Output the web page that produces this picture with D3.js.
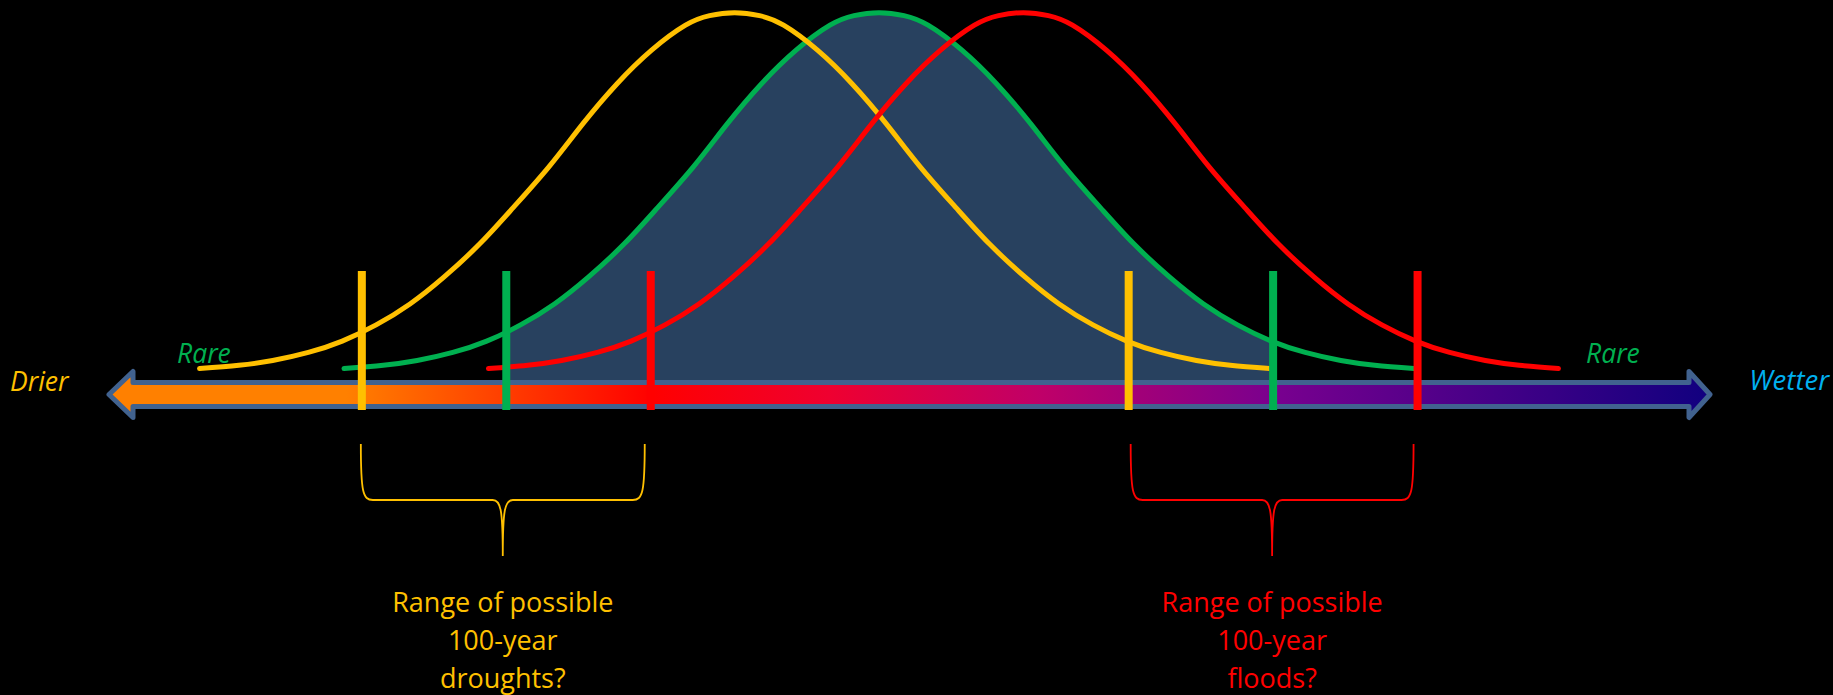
<!DOCTYPE html>
<html>
<head>
<meta charset="utf-8">
<script src="https://cdn.jsdelivr.net/npm/d3@7"></script>
<style>
  html, body { margin: 0; padding: 0; background: #000; }
  svg { display: block; }
</style>
</head>
<body>
<svg id="chart" width="1833" height="695"></svg>
<script>
// ---------- DATA ----------
// Three climate distributions (x in standard-deviation units of the current climate)
const seriesNames  = ["Current climate", "Drier climate", "Wetter climate"];
const seriesMeans  = [0, -0.81, 0.81];
// Shape of each bell curve: offset from the mean (σ) and relative height
const profileOffsets = [0, 0.14, 0.275, 0.465, 0.66, 0.85, 1.04, 1.24, 1.43, 1.63, 1.82, 2.01, 2.20, 2.39, 2.59, 2.78, 3.0];
const profileHeights = [1.0, 0.992, 0.966, 0.898, 0.806, 0.698, 0.581, 0.470, 0.370, 0.280, 0.207, 0.150, 0.106, 0.075, 0.053, 0.040, 0.031];
// "100-year event" thresholds relative to each mean (σ): low tail, high tail
const thresholdOffsets = [-2.09, 2.21];
// Text
const axisLabels  = ["Drier", "Wetter"];
const rareLabel   = "Rare";
const droughtText = ["Range of possible", "100-year", "droughts?"];
const floodText   = ["Range of possible", "100-year", "floods?"];

// ---------- STYLE ----------
const colors = { "Current climate": "#00b050", "Drier climate": "#ffc000", "Wetter climate": "#ff0000" };
const W = 1833, H = 695;
const svg = d3.select("#chart");
svg.append("rect").attr("width", W).attr("height", H).attr("fill", "#000");

const x = d3.scaleLinear().domain([-3, 3]).range([344, 1414]);
const y = d3.scaleLinear().domain([0, 1]).range([380, 12.7]);

function curvePoints(mean) {
  const pts = [];
  for (let i = profileOffsets.length - 1; i > 0; i--) pts.push([mean - profileOffsets[i], profileHeights[i]]);
  for (let i = 0; i < profileOffsets.length; i++) pts.push([mean + profileOffsets[i], profileHeights[i]]);
  return pts;
}

const line = d3.line().x(d => x(d[0])).y(d => y(d[1])).curve(d3.curveNatural);
const area = d3.area().x(d => x(d[0])).y0(y(0)).y1(d => y(d[1])).curve(d3.curveNatural);

// ---------- Shaded "normal" range under the current climate curve ----------
const cMean = seriesMeans[0];
const defs = svg.append("defs");
defs.append("clipPath").attr("id", "normalClip").append("rect")
  .attr("x", x(cMean + thresholdOffsets[0]))
  .attr("y", 0)
  .attr("width", x(cMean + thresholdOffsets[1]) - x(cMean + thresholdOffsets[0]))
  .attr("height", y(0));
svg.append("path")
  .datum(curvePoints(cMean))
  .attr("d", area)
  .attr("fill", "#28415f")
  .attr("clip-path", "url(#normalClip)");

// ---------- Double arrow with gradient ----------
const grad = defs.append("linearGradient").attr("id", "arrowGrad")
  .attr("gradientUnits", "userSpaceOnUse")
  .attr("x1", 105).attr("x2", 1713).attr("y1", 0).attr("y2", 0);
[[0, "#ff8000"], [0.15, "#ff8000"], [0.34, "#ff0000"], [0.45, "#ef0030"], [0.58, "#c00068"], [0.73, "#78008f"], [1, "#10007f"]]
  .forEach(s => grad.append("stop").attr("offset", s[0]).attr("stop-color", s[1]));

const aL = 109, aR = 1710, hL = 133, hR = 1689, cy = 394.5, sh = 12, hh = 23;
const arrowPath = [
  [aL, cy], [hL, cy - hh], [hL, cy - sh], [hR, cy - sh], [hR, cy - hh], [aR, cy],
  [hR, cy + hh], [hR, cy + sh], [hL, cy + sh], [hL, cy + hh]
];
svg.append("path")
  .attr("d", d3.line()(arrowPath) + "Z")
  .attr("fill", "url(#arrowGrad)")
  .attr("stroke", "#41628f")
  .attr("stroke-width", 5)
  .attr("stroke-linejoin", "round");

// ---------- Bell curves ----------
seriesNames.forEach((name, i) => {
  svg.append("path")
    .datum(curvePoints(seriesMeans[i]))
    .attr("d", line)
    .attr("fill", "none")
    .attr("stroke", colors[name])
    .attr("stroke-width", 5)
    .attr("stroke-linecap", "round");
});

// ---------- Threshold markers ----------
seriesNames.forEach((name, i) => {
  thresholdOffsets.forEach(off => {
    const xv = x(seriesMeans[i] + off);
    svg.append("rect")
      .attr("x", xv - 4).attr("y", 271)
      .attr("width", 8).attr("height", 139)
      .attr("fill", colors[name]);
  });
});

// ---------- Labels ----------
function label(txt, xp, yp, color, size, anchor) {
  svg.append("text").attr("x", xp).attr("y", yp).text(txt)
    .attr("text-anchor", anchor || "start")
    .attr("fill", color).attr("font-family", "Open Sans")
    .attr("font-style", "italic").attr("font-size", size);
}
label(axisLabels[0], 10, 391, "#ffc000", 26.5);
label(axisLabels[1], 1829, 390, "#00b0f0", 27.5, "end");
label(rareLabel, 177, 363, "#00b050", 26.5);
label(rareLabel, 1586, 363, "#00b050", 26.5);

// ---------- Braces ----------
function brace(x0, x1, color) {
  const xm = (x0 + x1) / 2, top = 444, mid = 500, tip = 556;
  const p = d3.path();
  p.moveTo(x0, top);
  p.bezierCurveTo(x0, mid - 8, x0 + 2, mid, x0 + 12, mid);
  p.lineTo(xm - 10, mid);
  p.bezierCurveTo(xm - 2, mid, xm, mid + 10, xm, tip);
  p.bezierCurveTo(xm, mid + 10, xm + 2, mid, xm + 10, mid);
  p.lineTo(x1 - 12, mid);
  p.bezierCurveTo(x1 - 2, mid, x1, mid - 8, x1, top);
  svg.append("path").attr("d", p.toString()).attr("fill", "none")
    .attr("stroke", color).attr("stroke-width", 1.8);
  return xm;
}
const dryIdx = 1, wetIdx = 2;
const bL = brace(x(seriesMeans[dryIdx] + thresholdOffsets[0]) - 1, x(seriesMeans[wetIdx] + thresholdOffsets[0]) - 6, colors["Drier climate"]);
const bR = brace(x(seriesMeans[dryIdx] + thresholdOffsets[1]) + 2, x(seriesMeans[wetIdx] + thresholdOffsets[1]) - 4, colors["Wetter climate"]);

function block(lines, cx, color) {
  const t = svg.append("text").attr("text-anchor", "middle")
    .attr("fill", color).attr("font-family", "Open Sans").attr("font-size", 27);
  lines.forEach((l, i) => t.append("tspan").attr("x", cx).attr("y", 612 + i * 38).text(l));
}
block(droughtText, bL, colors["Drier climate"]);
block(floodText, bR, colors["Wetter climate"]);
</script>
</body>
</html>
